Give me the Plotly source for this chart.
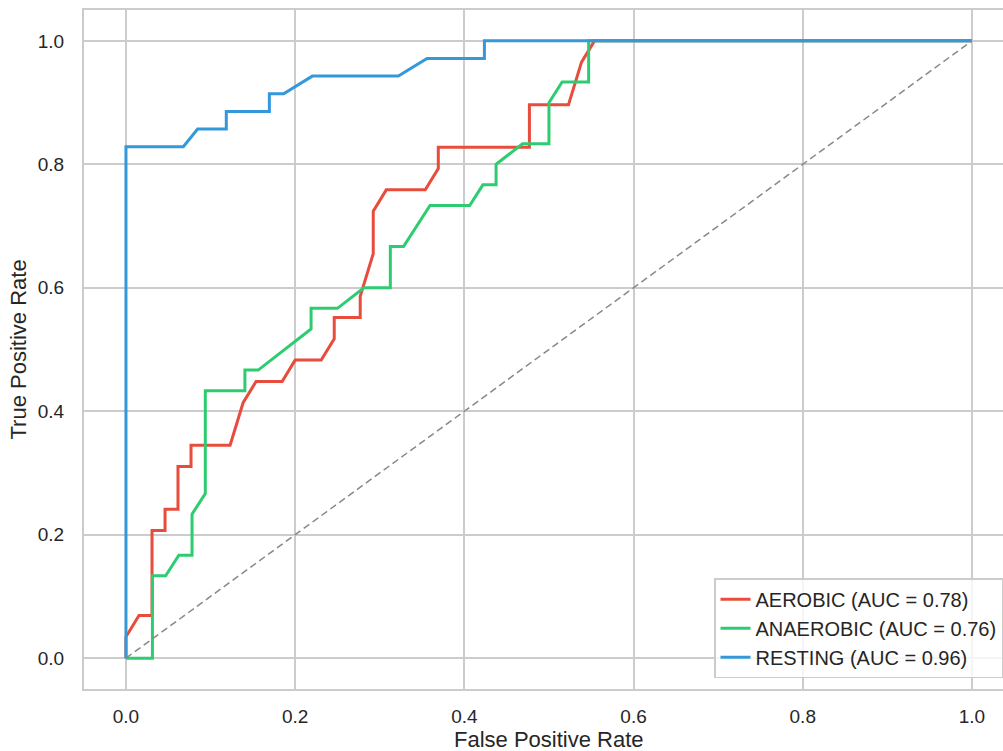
import plotly.graph_objects as go

# ---- data ----
aerobic_fpr = [0, 0, 0.0154, 0.0308, 0.0308, 0.0462, 0.0462, 0.0615, 0.0615, 0.0769, 0.0769,
               0.1231, 0.1385, 0.1538, 0.1846, 0.2000, 0.2308, 0.2462, 0.2462, 0.2769, 0.2769,
               0.2923, 0.2923, 0.3077, 0.3538, 0.3692, 0.3692, 0.4769, 0.4769, 0.5231, 0.5385,
               0.5538, 1.0]
aerobic_tpr = [0, 0.0345, 0.0690, 0.0690, 0.2069, 0.2069, 0.2414, 0.2414, 0.3103, 0.3103, 0.3448,
               0.3448, 0.4138, 0.4483, 0.4483, 0.4828, 0.4828, 0.5172, 0.5517, 0.5517, 0.5862,
               0.6552, 0.7241, 0.7586, 0.7586, 0.7931, 0.8276, 0.8276, 0.8966, 0.8966, 0.9655,
               1.0, 1.0]

anaerobic_fpr = [0, 0.0313, 0.0313, 0.0469, 0.0625, 0.0781, 0.0781, 0.0938, 0.0938, 0.1406, 0.1406,
                 0.1563, 0.2188, 0.2188, 0.2500, 0.2813, 0.3125, 0.3125, 0.3281, 0.3594, 0.4063,
                 0.4219, 0.4375, 0.4375, 0.4688, 0.5000, 0.5000, 0.5156, 0.5469, 0.5469, 1.0]
anaerobic_tpr = [0, 0, 0.1333, 0.1333, 0.1667, 0.1667, 0.2333, 0.2667, 0.4333, 0.4333, 0.4667,
                 0.4667, 0.5333, 0.5667, 0.5667, 0.6000, 0.6000, 0.6667, 0.6667, 0.7333, 0.7333,
                 0.7667, 0.7667, 0.8000, 0.8333, 0.8333, 0.9000, 0.9333, 0.9333, 1.0, 1.0]

resting_fpr = [0, 0, 0.0678, 0.0847, 0.1186, 0.1186, 0.1695, 0.1695, 0.1864, 0.2203, 0.3220,
               0.3559, 0.4237, 0.4237, 1.0]
resting_tpr = [0, 0.8286, 0.8286, 0.8571, 0.8571, 0.8857, 0.8857, 0.9143, 0.9143, 0.9429, 0.9429,
               0.9714, 0.9714, 1.0, 1.0]

series_names = ["AEROBIC (AUC = 0.78)", "ANAEROBIC (AUC = 0.76)", "RESTING (AUC = 0.96)"]
series_colors = ["#e74c3c", "#2ecc71", "#3498db"]
chance_line = [0, 1]
tick_vals = [0.0, 0.2, 0.4, 0.6, 0.8, 1.0]

TEXT = "#262626"
GRID = "#cccccc"
FONT = "Liberation Sans, Arial, sans-serif"

fig = go.Figure()
for fpr, tpr, name, color in zip([aerobic_fpr, anaerobic_fpr, resting_fpr],
                                 [aerobic_tpr, anaerobic_tpr, resting_tpr],
                                 series_names, series_colors):
    fig.add_trace(go.Scatter(x=fpr, y=tpr, mode="lines", name=name,
                             line=dict(color=color, width=3)))

fig.add_trace(go.Scatter(x=chance_line, y=chance_line, mode="lines", showlegend=False,
                         line=dict(color="#888888", width=1.5, dash="7px,4px")))

fig.update_layout(
    width=1003, height=751,
    margin=dict(l=84, r=0, t=10, b=62),
    paper_bgcolor="white", plot_bgcolor="white",
    font=dict(family=FONT, color=TEXT, size=19),
    showlegend=True,
    legend=dict(x=1.0, xanchor="right", y=0.016, yanchor="bottom",
                bgcolor="rgba(255,255,255,0.8)", bordercolor=GRID, borderwidth=1.5,
                font=dict(size=20, color=TEXT, family=FONT)),
    xaxis=dict(range=[-0.0496, 1.0367], tickvals=tick_vals, tickformat=".1f",
               showgrid=True, gridcolor=GRID, gridwidth=1.5, zeroline=False,
               showline=True, mirror=True, linecolor=GRID, linewidth=2,
               ticks="outside", ticklen=9, tickcolor="rgba(0,0,0,0)",
               tickfont=dict(size=19, color=TEXT, family=FONT)),
    yaxis=dict(range=[-0.05, 1.05], tickvals=tick_vals, tickformat=".1f",
               showgrid=True, gridcolor=GRID, gridwidth=1.5, zeroline=False,
               showline=True, mirror=False, linecolor=GRID, linewidth=2,
               ticks="outside", ticklen=14, tickcolor="rgba(0,0,0,0)",
               tickfont=dict(size=19, color=TEXT, family=FONT)),
    annotations=[
        dict(text="False Positive Rate", xref="x", x=0.5, yref="paper", y=0,
             yanchor="middle", yshift=-50, showarrow=False,
             font=dict(size=22, color=TEXT, family=FONT)),
        dict(text="True Positive Rate", xref="paper", x=0, xanchor="center", xshift=-66,
             yref="y", y=0.5, yanchor="middle", textangle=-90, showarrow=False,
             font=dict(size=22, color=TEXT, family=FONT)),
    ],
)

fig.write_html("out.html")
